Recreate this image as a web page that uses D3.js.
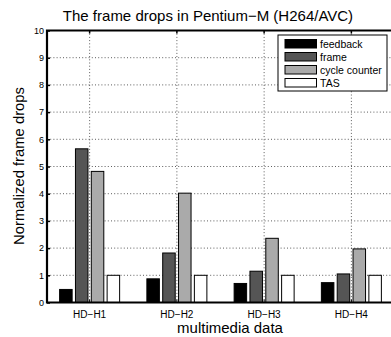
<!DOCTYPE html>
<html>
<head>
<meta charset="utf-8">
<script src="https://cdn.jsdelivr.net/npm/d3@7"></script>
<style>
  body { margin: 0; background: #fff; }
  text { font-family: "Liberation Sans", Arial, Helvetica, sans-serif; }
</style>
</head>
<body>
<svg id="chart" width="391" height="337"></svg>
<script>
const categories = ['HD\u2212H1', 'HD\u2212H2', 'HD\u2212H3', 'HD\u2212H4'];
const seriesNames = ['feedback', 'frame', 'cycle counter', 'TAS'];
const feedback = [0.48, 0.87, 0.70, 0.73];
const frame = [5.65, 1.82, 1.15, 1.05];
const cycleCounter = [4.82, 4.02, 2.36, 1.97];
const tas = [1.0, 1.0, 1.0, 1.0];
const yTicks = [0, 1, 2, 3, 4, 5, 6, 7, 8, 9, 10];
const colors = ['#000000', '#555555', '#aaaaaa', '#ffffff'];

const seriesValues = [feedback, frame, cycleCounter, tas];
const rows = categories.map((c, i) => ({
  cat: c,
  vals: seriesNames.map((s, j) => ({ key: s, value: seriesValues[j][i], color: colors[j] })),
}));

const svg = d3.select('#chart');
const plotLeft = 47;
const plotRight = 395;
const plotTop = 30.5;
const plotBottom = 302.5;

const x = d3.scaleBand().domain(categories).range([plotLeft - 1, plotRight]).padding(0);
const xSub = d3.scaleBand().domain(seriesNames).range([-30, 30]).paddingInner(0.21).paddingOuter(0);
const y = d3.scaleLinear().domain([0, 10]).range([plotBottom, plotTop]);

// grid
const grid = svg.append('g').attr('stroke', '#333').attr('stroke-width', 0.8).attr('stroke-dasharray', '1,2.2');
grid.selectAll('line.h')
  .data(yTicks.slice(1, -1))
  .enter()
  .append('line')
  .attr('x1', plotLeft)
  .attr('x2', plotRight)
  .attr('y1', d => y(d))
  .attr('y2', d => y(d));
grid.selectAll('line.v')
  .data(categories)
  .enter()
  .append('line')
  .attr('x1', d => x(d) + x.bandwidth() / 2)
  .attr('x2', d => x(d) + x.bandwidth() / 2)
  .attr('y1', plotTop)
  .attr('y2', plotBottom);

// bars
const groups = svg.append('g')
  .selectAll('g')
  .data(rows)
  .enter()
  .append('g')
  .attr('transform', d => `translate(${x(d.cat) + x.bandwidth() / 2},0)`);
groups.selectAll('rect')
  .data(d => d.vals)
  .enter()
  .append('rect')
  .attr('x', d => xSub(d.key))
  .attr('width', xSub.bandwidth())
  .attr('y', d => y(d.value))
  .attr('height', d => y(0) - y(d.value))
  .attr('fill', d => d.color)
  .attr('stroke', '#000')
  .attr('stroke-width', 1);

// axes
const yAxis = d3.axisLeft(y).tickValues(yTicks).tickSize(-3).tickPadding(3).tickFormat(d3.format('d'));
const gy = svg.append('g').attr('transform', `translate(${plotLeft},0)`).call(yAxis);
gy.select('.domain').remove();
gy.selectAll('text').attr('font-size', 9).attr('fill', '#000').attr('font-family', '"Liberation Sans", Arial, sans-serif');
gy.selectAll('line').attr('stroke-width', 1.5);

const xAxis = d3.axisBottom(x).tickSize(-3).tickPadding(8);
const gx = svg.append('g').attr('transform', `translate(0,${plotBottom})`).call(xAxis);
gx.select('.domain').remove();
gx.selectAll('text').attr('font-size', 10).attr('fill', '#000').attr('font-family', '"Liberation Sans", Arial, sans-serif');

const xTop = d3.axisTop(x).tickSize(-3).tickFormat('');
const gt = svg.append('g').attr('transform', `translate(0,${plotTop})`).call(xTop);
gt.select('.domain').remove();
gt.selectAll('line').attr('stroke-width', 1.5);

const frameAxes = svg.append('g').attr('stroke', '#000').attr('stroke-width', 2.2).attr('fill', 'none');
frameAxes.append('path').attr('d', `M${plotRight},${plotTop}H${plotLeft}V${plotBottom}H${plotRight}`);

// legend
const legend = svg.append('g').attr('transform', 'translate(278,35)');
legend.append('rect')
  .attr('width', 109)
  .attr('height', 56)
  .attr('fill', '#fff')
  .attr('stroke', '#000')
  .attr('stroke-width', 1);
const items = legend.selectAll('g.item')
  .data(seriesNames)
  .enter()
  .append('g')
  .attr('transform', (d, i) => `translate(7,${4.5 + i * 13})`);
items.append('rect')
  .attr('width', 31.5)
  .attr('height', 8.5)
  .attr('fill', (d, i) => colors[i])
  .attr('stroke', '#000')
  .attr('stroke-width', 1);
items.append('text')
  .attr('x', 35)
  .attr('y', 8.5)
  .attr('font-size', 10.5)
  .text(d => d);

// titles
svg.append('text')
  .attr('x', 208)
  .attr('y', 21)
  .attr('text-anchor', 'middle')
  .attr('font-size', 15)
  .text('The frame drops in Pentium\u2212M (H264/AVC)');
svg.append('text')
  .attr('x', 230)
  .attr('y', 333)
  .attr('text-anchor', 'middle')
  .attr('font-size', 15)
  .text('multimedia data');
svg.append('text')
  .attr('transform', 'translate(24,166) rotate(-90)')
  .attr('text-anchor', 'middle')
  .attr('font-size', 14.8)
  .text('Normalized frame drops');
</script>
</body>
</html>
